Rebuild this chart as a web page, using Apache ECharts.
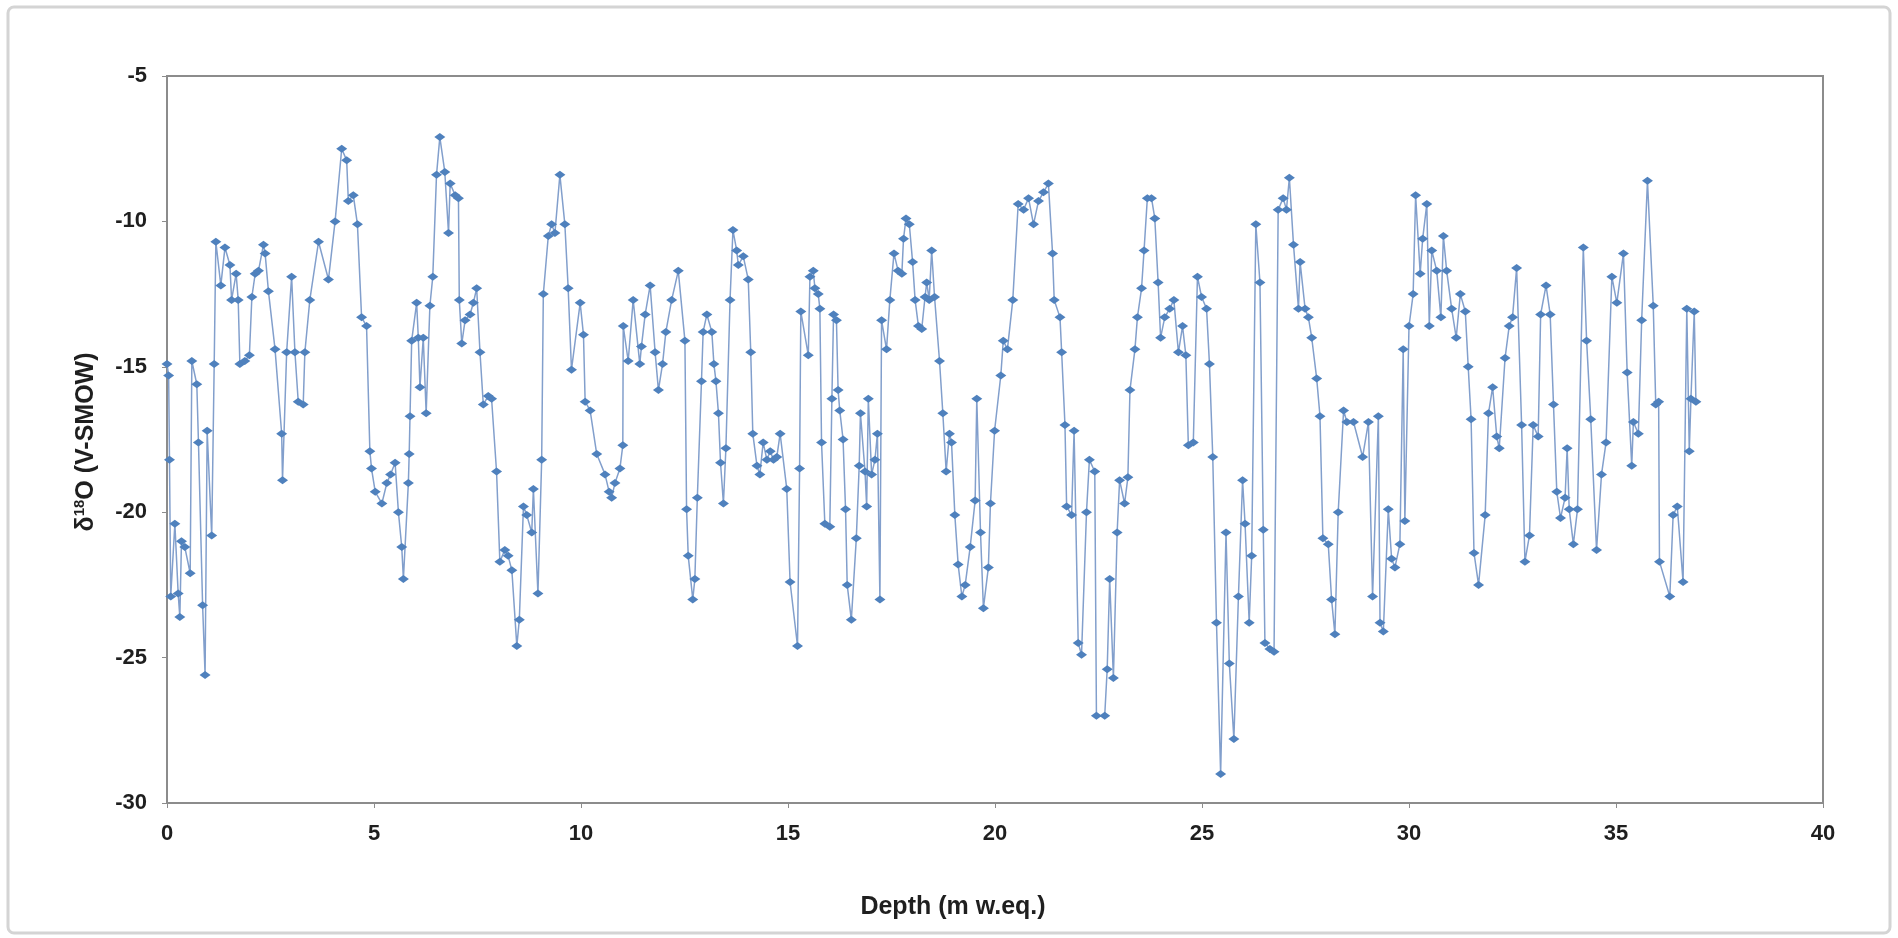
<!DOCTYPE html>
<html>
<head>
<meta charset="utf-8">
<script src="https://cdn.jsdelivr.net/npm/echarts@6/dist/echarts.min.js"></script>
<style>
html,body{margin:0;padding:0;background:#fff;}
#chart{width:1898px;height:938px;}
</style>
</head>
<body>
<div id="chart"></div>
<script>
// Depth (m w.eq.)
var depth = [
0.00,0.04,0.06,0.09,0.19,0.27,0.31,0.35,0.43,0.56,0.60,0.72,0.76,0.86,0.92,0.97,1.08,1.14,1.18,1.30,
1.40,1.52,1.56,1.67,1.72,1.76,1.88,1.99,2.05,2.13,2.21,2.33,2.37,2.45,2.61,2.77,2.79,2.89,3.01,3.09,
3.17,3.29,3.33,3.45,3.66,3.90,4.06,4.22,4.34,4.38,4.50,4.60,4.70,4.82,4.90,4.94,5.03,5.19,5.31,5.40,
5.51,5.59,5.67,5.71,5.83,5.85,5.87,5.91,6.03,6.07,6.11,6.19,6.26,6.35,6.42,6.51,6.59,6.71,6.80,6.84,
6.96,7.04,7.06,7.12,7.20,7.32,7.40,7.48,7.56,7.64,7.76,7.84,7.96,8.04,8.16,8.24,8.33,8.45,8.51,8.61,
8.69,8.81,8.85,8.96,9.05,9.09,9.21,9.29,9.37,9.49,9.61,9.69,9.77,9.98,10.06,10.10,10.22,10.38,10.58,10.68,
10.74,10.82,10.94,11.01,11.02,11.14,11.26,11.42,11.46,11.55,11.67,11.79,11.87,11.97,12.05,12.19,12.35,12.51,12.55,12.59,
12.70,12.75,12.81,12.91,12.95,13.04,13.16,13.21,13.26,13.32,13.37,13.44,13.50,13.60,13.67,13.76,13.80,13.92,14.04,14.10,
14.15,14.25,14.32,14.40,14.49,14.57,14.65,14.73,14.81,14.97,15.05,15.23,15.28,15.31,15.49,15.53,15.61,15.65,15.73,15.77,
15.81,15.89,16.01,16.06,16.10,16.17,16.21,16.25,16.33,16.39,16.43,16.53,16.65,16.72,16.75,16.86,16.90,16.94,17.02,17.10,
17.16,17.22,17.26,17.38,17.46,17.56,17.66,17.75,17.79,17.85,17.93,18.01,18.07,18.15,18.23,18.31,18.35,18.41,18.47,18.54,
18.66,18.74,18.82,18.90,18.95,19.03,19.11,19.20,19.28,19.40,19.52,19.56,19.65,19.72,19.84,19.89,19.99,20.14,20.20,20.30,
20.43,20.56,20.69,20.81,20.93,21.05,21.17,21.29,21.39,21.43,21.57,21.61,21.69,21.73,21.85,21.91,22.01,22.09,22.21,22.28,
22.41,22.45,22.65,22.71,22.77,22.86,22.95,23.01,23.13,23.21,23.26,23.38,23.44,23.54,23.60,23.68,23.78,23.86,23.94,24.00,
24.10,24.22,24.32,24.43,24.53,24.61,24.67,24.79,24.89,24.99,25.11,25.18,25.26,25.35,25.45,25.58,25.66,25.77,25.88,25.98,
26.04,26.14,26.20,26.30,26.40,26.48,26.52,26.64,26.74,26.84,26.96,27.04,27.11,27.21,27.33,27.37,27.49,27.57,27.65,27.77,
27.85,27.92,28.05,28.13,28.21,28.29,28.42,28.50,28.66,28.88,29.02,29.12,29.26,29.30,29.38,29.50,29.58,29.66,29.78,29.86,
29.90,30.00,30.10,30.16,30.27,30.33,30.43,30.49,30.55,30.67,30.77,30.83,30.91,31.03,31.14,31.24,31.36,31.43,31.50,31.57,
31.68,31.84,31.92,32.02,32.12,32.18,32.32,32.42,32.50,32.60,32.72,32.80,32.91,33.00,33.12,33.18,33.31,33.41,33.49,33.57,
33.66,33.77,33.82,33.87,33.97,34.07,34.21,34.29,34.39,34.53,34.65,34.76,34.90,35.02,35.18,35.27,35.38,35.42,35.54,35.62,
35.76,35.90,35.96,36.03,36.05,36.30,36.38,36.48,36.62,36.71,36.77,36.81,36.89,36.93
];
// δ18O (V-SMOW)
var d18O = [
-14.9,-15.3,-18.2,-22.9,-20.4,-22.8,-23.6,-21.0,-21.2,-22.1,-14.8,-15.6,-17.6,-23.2,-25.6,-17.2,-20.8,-14.9,-10.7,-12.2,
-10.9,-11.5,-12.7,-11.8,-12.7,-14.9,-14.8,-14.6,-12.6,-11.8,-11.7,-10.8,-11.1,-12.4,-14.4,-17.3,-18.9,-14.5,-11.9,-14.5,
-16.2,-16.3,-14.5,-12.7,-10.7,-12.0,-10.0,-7.5,-7.9,-9.3,-9.1,-10.1,-13.3,-13.6,-17.9,-18.5,-19.3,-19.7,-19.0,-18.7,
-18.3,-20.0,-21.2,-22.3,-19.0,-18.0,-16.7,-14.1,-12.8,-14.0,-15.7,-14.0,-16.6,-12.9,-11.9,-8.4,-7.1,-8.3,-10.4,-8.7,
-9.1,-9.2,-12.7,-14.2,-13.4,-13.2,-12.8,-12.3,-14.5,-16.3,-16.0,-16.1,-18.6,-21.7,-21.3,-21.5,-22.0,-24.6,-23.7,-19.8,
-20.1,-20.7,-19.2,-22.8,-18.2,-12.5,-10.5,-10.1,-10.4,-8.4,-10.1,-12.3,-15.1,-12.8,-13.9,-16.2,-16.5,-18.0,-18.7,-19.3,
-19.5,-19.0,-18.5,-17.7,-13.6,-14.8,-12.7,-14.9,-14.3,-13.2,-12.2,-14.5,-15.8,-14.9,-13.8,-12.7,-11.7,-14.1,-19.9,-21.5,
-23.0,-22.3,-19.5,-15.5,-13.8,-13.2,-13.8,-14.9,-15.5,-16.6,-18.3,-19.7,-17.8,-12.7,-10.3,-11.0,-11.5,-11.2,-12.0,-14.5,
-17.3,-18.4,-18.7,-17.6,-18.2,-17.9,-18.2,-18.1,-17.3,-19.2,-22.4,-24.6,-18.5,-13.1,-14.6,-11.9,-11.7,-12.3,-12.5,-13.0,
-17.6,-20.4,-20.5,-16.1,-13.2,-13.4,-15.8,-16.5,-17.5,-19.9,-22.5,-23.7,-20.9,-18.4,-16.6,-18.6,-19.8,-16.1,-18.7,-18.2,
-17.3,-23.0,-13.4,-14.4,-12.7,-11.1,-11.7,-11.8,-10.6,-9.9,-10.1,-11.4,-12.7,-13.6,-13.7,-12.6,-12.1,-12.7,-11.0,-12.6,
-14.8,-16.6,-18.6,-17.3,-17.6,-20.1,-21.8,-22.9,-22.5,-21.2,-19.6,-16.1,-20.7,-23.3,-21.9,-19.7,-17.2,-15.3,-14.1,-14.4,
-12.7,-9.4,-9.6,-9.2,-10.1,-9.3,-9.0,-8.7,-11.1,-12.7,-13.3,-14.5,-17.0,-19.8,-20.1,-17.2,-24.5,-24.9,-20.0,-18.2,
-18.6,-27.0,-27.0,-25.4,-22.3,-25.7,-20.7,-18.9,-19.7,-18.8,-15.8,-14.4,-13.3,-12.3,-11.0,-9.2,-9.2,-9.9,-12.1,-14.0,
-13.3,-13.0,-12.7,-14.5,-13.6,-14.6,-17.7,-17.6,-11.9,-12.6,-13.0,-14.9,-18.1,-23.8,-29.0,-20.7,-25.2,-27.8,-22.9,-18.9,
-20.4,-23.8,-21.5,-10.1,-12.1,-20.6,-24.5,-24.7,-24.8,-9.6,-9.2,-9.6,-8.5,-10.8,-13.0,-11.4,-13.0,-13.3,-14.0,-15.4,
-16.7,-20.9,-21.1,-23.0,-24.2,-20.0,-16.5,-16.9,-16.9,-18.1,-16.9,-22.9,-16.7,-23.8,-24.1,-19.9,-21.6,-21.9,-21.1,-14.4,
-20.3,-13.6,-12.5,-9.1,-11.8,-10.6,-9.4,-13.6,-11.0,-11.7,-13.3,-10.5,-11.7,-13.0,-14.0,-12.5,-13.1,-15.0,-16.8,-21.4,
-22.5,-20.1,-16.6,-15.7,-17.4,-17.8,-14.7,-13.6,-13.3,-11.6,-17.0,-21.7,-20.8,-17.0,-17.4,-13.2,-12.2,-13.2,-16.3,-19.3,
-20.2,-19.5,-17.8,-19.9,-21.1,-19.9,-10.9,-14.1,-16.8,-21.3,-18.7,-17.6,-11.9,-12.8,-11.1,-15.2,-18.4,-16.9,-17.3,-13.4,
-8.6,-12.9,-16.3,-16.2,-21.7,-22.9,-20.1,-19.8,-22.4,-13.0,-17.9,-16.1,-13.1,-16.2
];
var xTicks = {min: 0, max: 40, interval: 5};
var yTicks = {min: -30, max: -5, interval: 5};

var FONT = '"Liberation Sans", Arial, Helvetica, sans-serif';
var TXT = '#1f1f1f';
var AX = '#8c8c8c';

var points = depth.map(function (d, i) { return [d, d18O[i]]; });

var chart = echarts.init(document.getElementById('chart'), null, {renderer: 'canvas'});
chart.setOption({
  animation: false,
  backgroundColor: '#ffffff',
  grid: {
    left: 167, right: 75, top: 76, bottom: 135,
    show: true, borderColor: AX, borderWidth: 2, backgroundColor: '#ffffff'
  },
  xAxis: {
    type: 'value',
    min: xTicks.min, max: xTicks.max, interval: xTicks.interval,
    splitLine: {show: false},
    axisLine: {show: true, onZero: false, lineStyle: {color: AX, width: 2}},
    axisTick: {show: true, inside: false, length: 5, lineStyle: {color: AX, width: 1}},
    axisLabel: {margin: 20, color: TXT, fontFamily: FONT, fontWeight: 'bold', fontSize: 22}
  },
  yAxis: {
    type: 'value',
    min: yTicks.min, max: yTicks.max, interval: yTicks.interval,
    splitLine: {show: false},
    axisLine: {show: true, onZero: false, lineStyle: {color: AX, width: 2}},
    axisTick: {show: true, inside: false, length: 5, lineStyle: {color: AX, width: 1}},
    axisLabel: {margin: 20, color: TXT, fontFamily: FONT, fontWeight: 'bold', fontSize: 22}
  },
  series: [{
    type: 'line',
    data: points,
    symbol: 'diamond',
    symbolSize: [11, 8],
    showAllSymbol: true,
    itemStyle: {color: '#4f81bd'},
    lineStyle: {color: '#829fcc', width: 1.5},
    emphasis: {disabled: true}
  }],
  graphic: [
    {
      type: 'rect', z: -10, silent: true,
      shape: {x: 8, y: 7, width: 1882, height: 926, r: 6},
      style: {fill: 'none', stroke: '#d4d4d4', lineWidth: 3}
    },
    {
      type: 'text', silent: true,
      x: 953, y: 907,
      style: {
        text: 'Depth (m w.eq.)',
        font: 'bold 25px ' + FONT,
        fill: TXT, textAlign: 'center', textVerticalAlign: 'middle'
      }
    },
    {
      type: 'text', silent: true,
      x: 84, y: 442, rotation: Math.PI / 2,
      style: {
        text: '{m|δ}{s|18}{m|O (V-SMOW)}',
        textAlign: 'center', textVerticalAlign: 'middle',
        fill: TXT,
        rich: {
          m: {fontFamily: FONT, fontWeight: 'bold', fontSize: 25, lineHeight: 30, verticalAlign: 'bottom', fill: TXT},
          s: {fontFamily: FONT, fontWeight: 'bold', fontSize: 15, lineHeight: 30, verticalAlign: 'top', padding: [3, 0, 0, 0], fill: TXT}
        }
      }
    }
  ]
});
</script>
</body>
</html>
